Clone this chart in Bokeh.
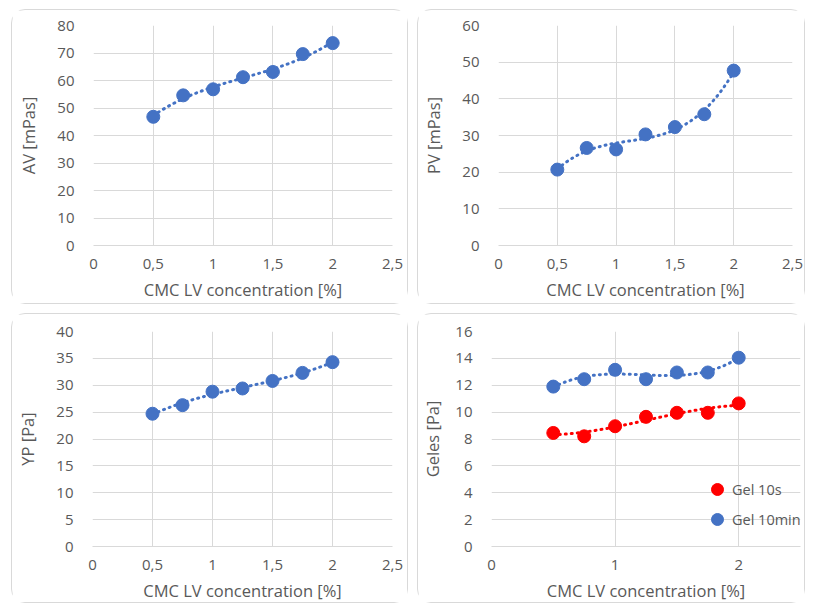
import numpy as np
from bokeh.plotting import figure
from bokeh.layouts import column, row
from bokeh.models import Range1d, FixedTicker, Legend, LegendItem
from bokeh.embed import file_html
from bokeh.resources import INLINE

# ---- data ----
conc = [0.5, 0.75, 1.0, 1.25, 1.5, 1.75, 2.0]
av = [46.8, 54.6, 56.8, 61.2, 63.1, 69.6, 73.6]
pv = [20.7, 26.6, 26.2, 30.3, 32.3, 35.8, 47.7]
yp = [24.7, 26.3, 28.8, 29.4, 30.8, 32.3, 34.3]
gel_10s = [8.45, 8.2, 8.95, 9.65, 9.95, 9.95, 10.65]
gel_10min = [11.9, 12.45, 13.15, 12.45, 12.95, 12.95, 14.05]

x_ticks_half = [0, 0.5, 1, 1.5, 2, 2.5]
x_labels_half = ["0", "0,5", "1", "1,5", "2", "2,5"]
x_ticks_unit = [0, 1, 2]
x_labels_unit = ["0", "1", "2"]

av_ticks = [0, 10, 20, 30, 40, 50, 60, 70, 80]
pv_ticks = [0, 10, 20, 30, 40, 50, 60]
yp_ticks = [0, 5, 10, 15, 20, 25, 30, 35, 40]
gel_ticks = [0, 2, 4, 6, 8, 10, 12, 14, 16]

x_title = "CMC LV concentration [%]"

BLUE = "#4472C4"
RED = "#FF0000"
TEXT = "#595959"
GRID = "#D9D9D9"
FONT = "Open Sans"


def trend(xs, ys, deg=3):
    c = np.polyfit(xs, ys, deg)
    xx = np.linspace(min(xs), max(xs), 120)
    return xx, np.polyval(c, xx)


def panel(width, height, margin, borders, ylabel, yticks, xticks, xlabels, ylab_standoff=14):
    lb, rb, tb, bb = borders
    p = figure(width=width, height=height, output_backend="svg", toolbar_location=None,
               x_range=Range1d(0, 2.5), y_range=Range1d(yticks[0], yticks[-1]),
               min_border_left=lb, min_border_right=rb, min_border_top=tb, min_border_bottom=bb,
               background_fill_color="white", border_fill_color="white")
    p.margin = margin
    p.styles = {"border": "1px solid #D9D9D9", "border-radius": "14px", "box-sizing": "border-box"}
    p.outline_line_color = None
    p.xaxis.ticker = FixedTicker(ticks=xticks)
    p.xaxis.major_label_overrides = {t: l for t, l in zip(xticks, xlabels)}
    p.yaxis.ticker = FixedTicker(ticks=yticks)
    p.xgrid.ticker = FixedTicker(ticks=xticks)
    p.ygrid.ticker = FixedTicker(ticks=yticks)
    for g in (p.xgrid, p.ygrid):
        g.grid_line_color = GRID
        g.grid_line_width = 1
    p.xaxis.axis_line_color = GRID
    p.yaxis.axis_line_color = None
    for ax in (p.xaxis, p.yaxis):
        ax.major_tick_line_color = None
        ax.minor_tick_line_color = None
        ax.major_label_text_font = FONT
        ax.major_label_text_font_size = "15px"
        ax.major_label_text_color = TEXT
        ax.axis_label_text_font = FONT
        ax.axis_label_text_font_size = "16.5px"
        ax.axis_label_text_font_style = "normal"
        ax.axis_label_text_color = TEXT
    p.xaxis.axis_label = x_title
    p.yaxis.axis_label = ylabel
    p.xaxis.major_label_standoff = 7
    p.xaxis.axis_label_standoff = 6
    p.yaxis.major_label_standoff = 13
    p.yaxis.axis_label_standoff = ylab_standoff
    return p


def series(p, ys, color):
    tx, ty = trend(conc, ys)
    p.line(tx, ty, line_color=color, line_width=3, line_dash="1 5", line_cap="round")
    return p.scatter(conc, ys, size=13, marker="circle", fill_color=color, line_color=color)


p1 = panel(397, 295, (9, 5, 4, 11), (81, 17, 15, 60), "AV [mPas]", av_ticks, x_ticks_half, x_labels_half)
series(p1, av, BLUE)

p2 = panel(388, 295, (9, 0, 4, 4), (80, 14, 15, 60), "PV [mPas]", pv_ticks, x_ticks_half, x_labels_half)
series(p2, pv, BLUE)

p3 = panel(397, 290, (5, 5, 0, 11), (80, 17, 17, 55), "YP [Pa]", yp_ticks, x_ticks_half, x_labels_half)
series(p3, yp, BLUE)

p4 = panel(388, 290, (5, 0, 0, 4), (65, 6, 17, 55), "Geles [Pa]", gel_ticks, x_ticks_unit, x_labels_unit,
           ylab_standoff=8)
r_min = series(p4, gel_10min, BLUE)
r_s = series(p4, gel_10s, RED)
leg = Legend(items=[LegendItem(label="Gel 10s", renderers=[r_s]),
                    LegendItem(label="Gel 10min", renderers=[r_min])],
             location=(211, 12))
leg.background_fill_alpha = 0
leg.border_line_color = None
leg.padding = 0
leg.margin = 0
leg.spacing = -7
leg.glyph_width = 30
leg.glyph_height = 30
leg.label_standoff = -6
leg.label_text_font = FONT
leg.label_text_font_size = "14.5px"
leg.label_text_color = TEXT
p4.add_layout(leg)

layout = column(row(p1, p2), row(p3, p4))
open("out.html", "w").write(file_html(layout, INLINE))
